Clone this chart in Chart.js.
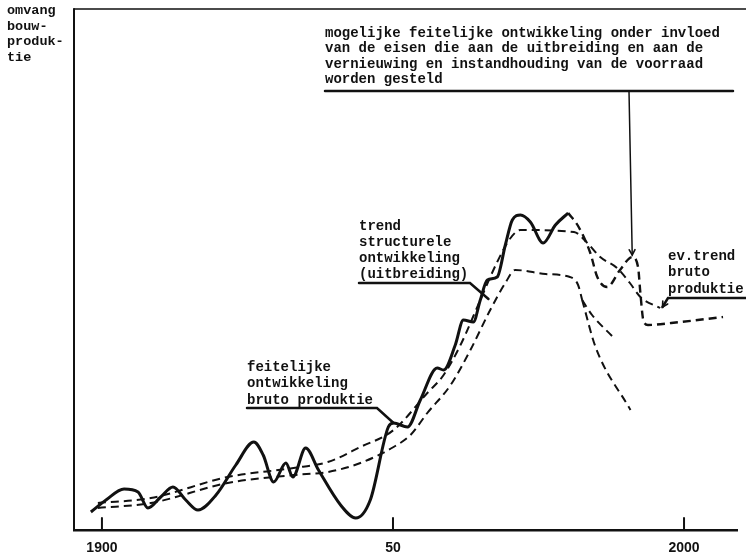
<!DOCTYPE html>
<html>
<head>
<meta charset="utf-8">
<style>
  body { margin: 0; background: #fff; }
  #wrap { width: 746px; height: 554px; }
</style>
<script src="https://cdn.jsdelivr.net/npm/chart.js@4/dist/chart.umd.min.js"></script>
</head>
<body>
<div id="wrap"><canvas id="chart" width="746" height="554"></canvas></div>
<script>
// axis ticks
const tickYears = [1900, 1950, 2000];
const tickLabels = ["1900", "50", "2000"];

// feitelijke ontwikkeling bruto produktie (solid)
const actualYears = [1898.1, 1900.7, 1903.8, 1906.2, 1907.9, 1910.1, 1912.2, 1914.4, 1916.5, 1919.6,
  1923.0, 1926.1, 1927.7, 1929.5, 1931.6, 1932.8, 1935.0, 1937.2, 1941.0, 1943.6,
  1946.1, 1949.2, 1950.1, 1952.5, 1954.7, 1957.6, 1958.7, 1960.7, 1962.1, 1963.8,
  1965.0, 1966.2, 1967.9, 1969.3, 1970.5, 1971.9, 1973.6, 1975.8, 1977.9, 1980.1];
const actualValues = [16, 28, 39, 36, 20, 31, 41, 28, 18, 33,
  63, 86, 73, 46, 65, 51, 80, 58, 23, 10,
  28, 101, 105, 101, 128, 160, 158, 183, 208, 206,
  228, 248, 251, 283, 308, 313, 306, 285, 303, 315];

// mogelijke feitelijke ontwikkeling (dashed continuation)
const possibleYears = [1980.1, 1981.9, 1983.9, 1985.1, 1986.8, 1989.0, 1991.1, 1992.1, 1992.5, 1993.0, 1993.8, 1997.8, 2006.7];
const possibleValues = [315, 301, 275, 251, 241, 258, 271, 261, 235, 208, 203, 205, 211];

// ev. trend bruto produktie (upper dashed)
const grossTrendYears = [1899.3, 1908.4, 1921.6, 1932.9, 1938.8, 1944.4, 1950.1, 1955.9, 1958.7, 1961.6,
  1965.0, 1967.9, 1970.2, 1971.9, 1981.1, 1983.4, 1985.6, 1988.5, 1990.7, 1992.5, 1995.9];
const grossTrendValues = [25, 30, 51, 60, 66, 81, 98, 135, 153, 183,
  228, 266, 290, 298, 296, 285, 271, 260, 245, 231, 220];

// trend structurele ontwikkeling (uitbreiding) (lower dashed)
const structTrendYears = [1899.3, 1908.4, 1921.6, 1932.9, 1938.8, 1944.4, 1950.1, 1953.0, 1955.9, 1959.9,
  1963.3, 1966.7, 1969.3, 1971.0, 1976.2, 1980.4, 1981.8, 1982.5];
const structTrendValues = [20, 25, 45, 53, 56, 65, 81, 93, 115, 143,
  178, 218, 245, 258, 254, 251, 243, 228];

// two falling branches after the plateau
const branchAYears = [1982.5, 1984.8, 1990.8];
const branchAValues = [228, 181, 118];
const branchBYears = [1982.5, 1984.2, 1987.8];
const branchBValues = [228, 213, 191];

function pts(xs, ys) { return xs.map((x, i) => ({ x: x, y: ys[i] })); }

const ink = '#111';
const mono = 'bold 14px "Liberation Mono", "DejaVu Sans Mono", monospace';

function dashed(data, w) {
  return { data: data, borderColor: ink, borderWidth: w || 2, borderDash: [8, 5],
    pointRadius: 0, fill: false, cubicInterpolationMode: 'monotone' };
}

const annotate = {
  id: 'annotate',
  afterDraw(chart) {
    const ctx = chart.ctx, a = chart.chartArea;
    const sx = chart.scales.x, sy = chart.scales.y;
    const px = (x, y) => [sx.getPixelForValue(x), sy.getPixelForValue(y)];
    ctx.save();
    ctx.strokeStyle = ink; ctx.fillStyle = ink;
    ctx.lineCap = 'round';

    // frame: top line + left axis
    ctx.lineWidth = 1.3;
    ctx.beginPath(); ctx.moveTo(a.left, a.top - 1); ctx.lineTo(746, a.top - 1); ctx.stroke();
    ctx.lineWidth = 2;
    ctx.beginPath(); ctx.moveTo(a.left, a.top - 1); ctx.lineTo(a.left, a.bottom); ctx.stroke();

    // tick marks pointing up
    tickYears.forEach(v => {
      const x = sx.getPixelForValue(v);
      ctx.beginPath(); ctx.moveTo(x, a.bottom); ctx.lineTo(x, a.bottom - 12); ctx.stroke();
    });

    function text(lines, x, y0, step, font) {
      ctx.font = font || mono;
      ctx.textBaseline = 'middle';
      lines.forEach((t, i) => ctx.fillText(t, x, y0 + i * step));
    }
    function path(points, w) {
      ctx.lineWidth = w;
      ctx.beginPath();
      points.forEach((p, i) => i ? ctx.lineTo(p[0], p[1]) : ctx.moveTo(p[0], p[1]));
      ctx.stroke();
    }
    function head(from, tip) {
      const ang = Math.atan2(tip[1] - from[1], tip[0] - from[0]);
      ctx.lineWidth = 1.6;
      ctx.beginPath();
      ctx.moveTo(tip[0] - 6 * Math.cos(ang - 0.5), tip[1] - 6 * Math.sin(ang - 0.5));
      ctx.lineTo(tip[0], tip[1]);
      ctx.lineTo(tip[0] - 6 * Math.cos(ang + 0.5), tip[1] - 6 * Math.sin(ang + 0.5));
      ctx.stroke();
    }

    text(["omvang", "bouw-", "produk-", "tie"], 7, 11, 15.5, 'bold 13.5px "Liberation Mono", monospace');

    text(["mogelijke feitelijke ontwikkeling onder invloed",
          "van de eisen die aan de uitbreiding en aan de",
          "vernieuwing en instandhouding van de voorraad",
          "worden gesteld"], 325, 33, 15.5);
    const tipTop = px(1991.1, 273);
    path([[325, 91], [733, 91]], 2.5);
    path([[629, 91], tipTop], 1.5);
    head([629, 91], tipTop);

    text(["trend", "structurele", "ontwikkeling", "(uitbreiding)"], 359, 226, 16.2);
    path([[359, 283], [470, 283], px(1966.4, 229)], 2.5);

    text(["feitelijke", "ontwikkeling", "bruto produktie"], 247, 367, 16.5);
    path([[247, 408], [377, 408], px(1950.1, 105)], 2.5);

    text(["ev.trend", "bruto", "produktie"], 668, 256, 16.8);
    const tipEv = px(1996.3, 221);
    path([[746, 298], [668, 298], tipEv], 2.5);
    head([668, 298], tipEv);

    ctx.restore();
  }
};

new Chart(document.getElementById('chart'), {
  type: 'line',
  data: {
    datasets: [
      { data: pts(actualYears, actualValues), borderColor: ink, borderWidth: 3, pointRadius: 0,
        fill: false, cubicInterpolationMode: 'monotone' },
      dashed(pts(possibleYears, possibleValues), 2.4),
      dashed(pts(grossTrendYears, grossTrendValues)),
      dashed(pts(structTrendYears, structTrendValues)),
      dashed(pts(branchAYears, branchAValues)),
      dashed(pts(branchBYears, branchBValues))
    ]
  },
  options: {
    responsive: false,
    animation: false,
    devicePixelRatio: 1,
    layout: { padding: { left: 74, right: 9, top: 10, bottom: 0 } },
    plugins: { legend: { display: false }, tooltip: { enabled: false } },
    scales: {
      x: {
        type: 'linear', min: 1895.2, max: 2009.1,
        afterBuildTicks: s => { s.ticks = tickYears.map(v => ({ value: v })); },
        afterFit: s => { s.height = 24; },
        ticks: {
          callback: v => tickLabels[tickYears.indexOf(v)],
          font: { family: '"Liberation Sans", Arial, sans-serif', size: 14, weight: 'bold' },
          color: ink, padding: 10, maxRotation: 0, autoSkip: false
        },
        grid: { drawOnChartArea: false, drawTicks: false },
        border: { display: true, color: ink, width: 2.5 }
      },
      y: { display: false, min: -2, max: 518 }
    }
  },
  plugins: [annotate]
});
</script>
</body>
</html>
